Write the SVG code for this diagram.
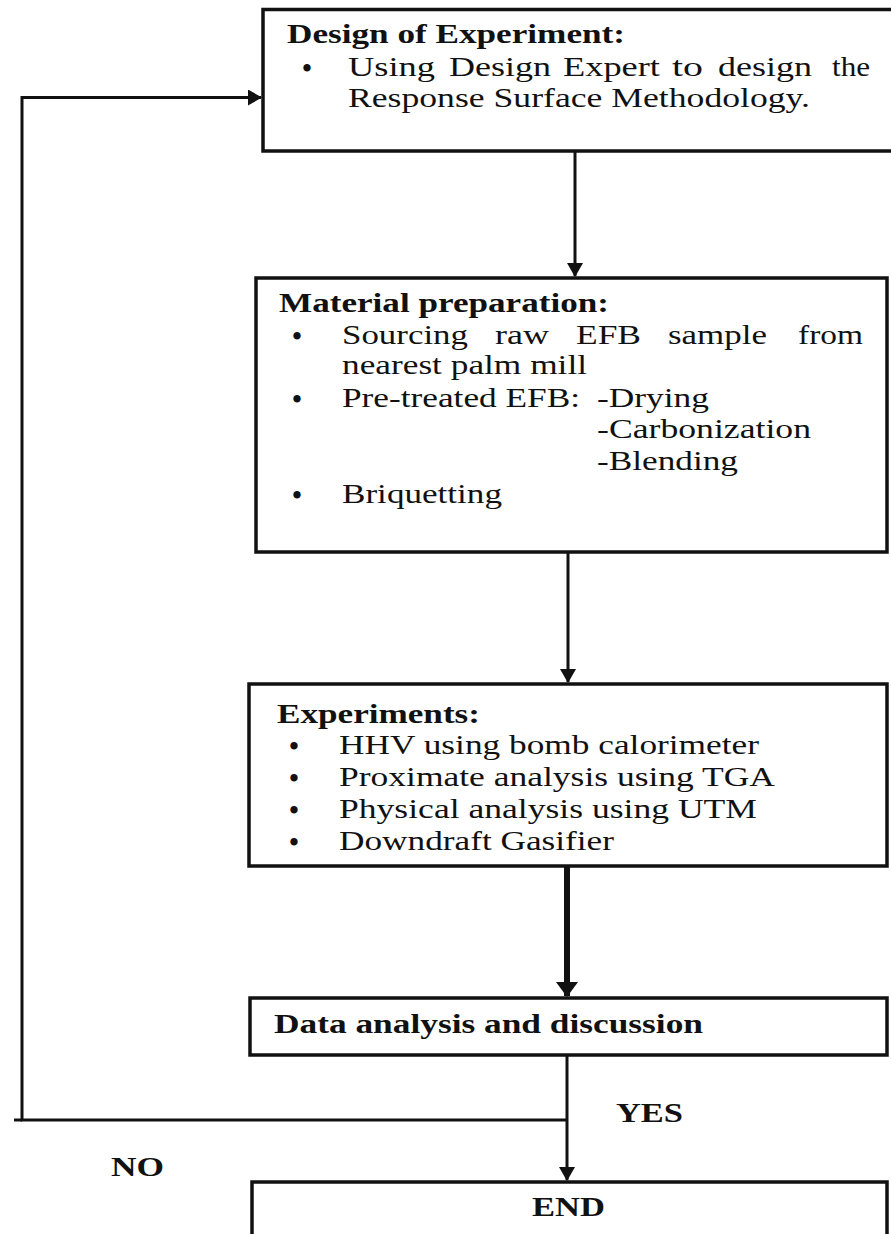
<svg xmlns="http://www.w3.org/2000/svg" width="891" height="1234" viewBox="0 0 891 1234">
<style>
.box{fill:#fff;stroke:#111;stroke-width:3.5}
.ln{fill:none;stroke:#111;stroke-width:3}
.thick{fill:none;stroke:#111;stroke-width:6}
text{font-family:"Liberation Serif","Times New Roman",serif;fill:#111;font-size:27px}
.b{font-weight:bold}
.bul{text-anchor:middle;font-weight:bold}
</style>
<defs>
<marker id="ah" markerUnits="userSpaceOnUse" markerWidth="14" markerHeight="16" refX="13" refY="8" orient="auto" viewBox="0 0 14 16">
<path d="M0,0 L14,8 L0,16 z" fill="#111"/>
</marker>
<marker id="ahT" markerUnits="userSpaceOnUse" markerWidth="15" markerHeight="22" refX="14" refY="11" orient="auto" viewBox="0 0 15 22">
<path d="M0,0 L15,11 L0,22 z" fill="#111"/>
</marker>
</defs>
<rect width="891" height="1234" fill="#fff"/>

<g id="connectors">
<polyline class="ln" points="567,1120 22,1120 22,97.5 261,97.5" marker-end="url(#ah)"/>
<line class="ln" x1="14" y1="1120" x2="22" y2="1120"/>
<line class="ln" x1="575" y1="151" x2="575" y2="276" marker-end="url(#ah)"/>
<line class="ln" x1="568" y1="552" x2="568" y2="682" marker-end="url(#ah)"/>
<line class="thick" x1="567" y1="866" x2="567" y2="996" marker-end="url(#ahT)"/>
<line class="ln" x1="567" y1="1055" x2="567" y2="1180" marker-end="url(#ah)"/>
</g>

<g id="node-design">
<rect class="box" x="263" y="9.5" width="700" height="141.5"/>
<text class="b" x="287" y="43" textLength="338" lengthAdjust="spacingAndGlyphs">Design of Experiment:</text>
<text class="bul" x="307" y="77">•</text>
<text y="76"><tspan x="348" textLength="87" lengthAdjust="spacingAndGlyphs">Using</tspan> <tspan x="449" textLength="102" lengthAdjust="spacingAndGlyphs">Design</tspan> <tspan x="563" textLength="97" lengthAdjust="spacingAndGlyphs">Expert</tspan> <tspan x="672" textLength="31" lengthAdjust="spacingAndGlyphs">to</tspan> <tspan x="718" textLength="94" lengthAdjust="spacingAndGlyphs">design</tspan> <tspan x="832" textLength="38" lengthAdjust="spacingAndGlyphs">the</tspan></text>
<text x="348" y="107" textLength="462" lengthAdjust="spacingAndGlyphs">Response Surface Methodology.</text>
</g>

<g id="node-material">
<rect class="box" x="256" y="278" width="631" height="274"/>
<text class="b" x="279" y="312" textLength="330" lengthAdjust="spacingAndGlyphs">Material preparation:</text>
<text class="bul" x="297" y="345">•</text>
<text y="344"><tspan x="342" textLength="126" lengthAdjust="spacingAndGlyphs">Sourcing</tspan> <tspan x="495" textLength="54" lengthAdjust="spacingAndGlyphs">raw</tspan> <tspan x="576" textLength="65" lengthAdjust="spacingAndGlyphs">EFB</tspan> <tspan x="668" textLength="99" lengthAdjust="spacingAndGlyphs">sample</tspan> <tspan x="798" textLength="65" lengthAdjust="spacingAndGlyphs">from</tspan></text>
<text x="342" y="374" textLength="245" lengthAdjust="spacingAndGlyphs">nearest palm mill</text>
<text class="bul" x="297" y="408">•</text>
<text x="342" y="407" textLength="238" lengthAdjust="spacingAndGlyphs">Pre-treated EFB:</text>
<text x="597" y="407" textLength="112" lengthAdjust="spacingAndGlyphs">-Drying</text>
<text x="597" y="438" textLength="214" lengthAdjust="spacingAndGlyphs">-Carbonization</text>
<text x="597" y="470" textLength="141" lengthAdjust="spacingAndGlyphs">-Blending</text>
<text class="bul" x="297" y="504">•</text>
<text x="342" y="503" textLength="160" lengthAdjust="spacingAndGlyphs">Briquetting</text>
</g>

<g id="node-experiments">
<rect class="box" x="249" y="684" width="638" height="182"/>
<text class="b" x="277" y="723" textLength="203" lengthAdjust="spacingAndGlyphs">Experiments:</text>
<text class="bul" x="294" y="755">•</text>
<text x="339" y="754" textLength="420" lengthAdjust="spacingAndGlyphs">HHV using bomb calorimeter</text>
<text class="bul" x="294" y="787">•</text>
<text x="339" y="786" textLength="436" lengthAdjust="spacingAndGlyphs">Proximate analysis using TGA</text>
<text class="bul" x="294" y="819">•</text>
<text x="339" y="818" textLength="418" lengthAdjust="spacingAndGlyphs">Physical analysis using UTM</text>
<text class="bul" x="294" y="851">•</text>
<text x="339" y="850" textLength="275" lengthAdjust="spacingAndGlyphs">Downdraft Gasifier</text>
</g>

<g id="node-data">
<rect class="box" x="250" y="998" width="637" height="57"/>
<text class="b" x="274" y="1033" textLength="429" lengthAdjust="spacingAndGlyphs">Data analysis and discussion</text>
</g>

<g id="node-end">
<rect class="box" x="252" y="1182" width="635" height="100"/>
<text class="b" x="532" y="1216" textLength="73" lengthAdjust="spacingAndGlyphs">END</text>
</g>

<g id="labels">
<text class="b" x="616" y="1122" font-size="26" textLength="67" lengthAdjust="spacingAndGlyphs">YES</text>
<text class="b" x="111" y="1176" font-size="27" textLength="53" lengthAdjust="spacingAndGlyphs">NO</text>
</g>
</svg>
